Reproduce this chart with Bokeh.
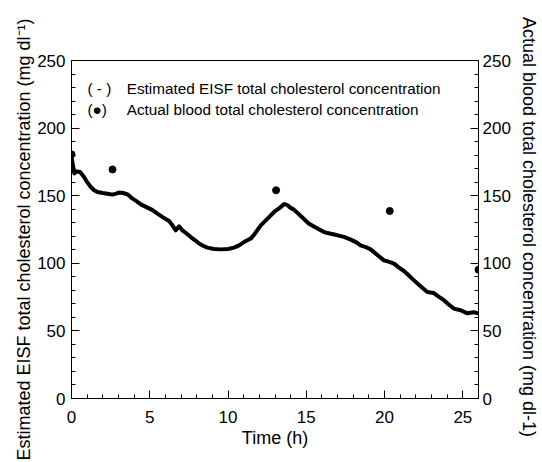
from bokeh.plotting import figure
from bokeh.models import Range1d, LinearAxis, SingleIntervalTicker, Label
from bokeh.embed import file_html
from bokeh.resources import INLINE

# Estimated EISF total cholesterol (continuous line)
eisf_time = [0.00, 0.10, 0.18, 0.35, 0.55, 0.80, 1.00, 1.23, 1.45, 1.66, 2.00, 2.30, 2.62, 2.85,
             3.04, 3.30, 3.58, 3.90, 4.15, 4.43, 4.85, 5.15, 5.49, 5.85, 6.23, 6.45, 6.66, 6.87,
             7.09, 7.35, 7.62, 7.90, 8.15, 8.40, 8.68, 9.10, 9.53, 10.00, 10.38, 10.70, 11.02,
             11.45, 11.66, 12.09, 12.30, 12.73, 13.05, 13.30, 13.58, 13.80, 14.00, 14.21, 14.70,
             15.17, 15.60, 16.13, 16.50, 17.00, 17.40, 17.84, 18.20, 18.47, 18.80, 19.11, 19.50,
             19.96, 20.30, 20.60, 20.90, 21.24, 21.55, 21.88, 22.30, 22.73, 23.15, 23.50, 23.79,
             24.10, 24.43, 24.86, 25.29, 25.70, 26.00]
eisf_value = [178.5, 172.0, 166.5, 168.0, 167.5, 163.8, 160.0, 156.4, 154.0, 152.7, 152.0, 151.5, 150.8, 151.5,
              152.3, 152.0, 151.0, 147.8, 146.0, 143.6, 141.2, 139.5, 136.7, 134.0, 131.3, 128.1, 124.4, 127.3,
              124.4, 122.0, 119.4, 117.0, 114.6, 113.0, 111.6, 110.6, 110.3, 110.6, 111.6, 113.3, 115.7,
              118.3, 121.0, 128.1, 130.5, 135.5, 139.0, 141.0, 143.8, 143.0, 141.0, 139.7, 134.5,
              129.3, 126.5, 123.1, 122.0, 120.7, 119.5, 117.5, 115.5, 113.3, 112.0, 110.3, 106.5,
              102.2, 101.0, 99.8, 97.0, 94.3, 91.0, 87.4, 83.0, 78.8, 78.0, 75.0, 72.7,
              69.5, 66.5, 65.3, 63.0, 63.8, 63.0]

# Actual blood total cholesterol (dots)
blood_time = [0.0, 2.62, 13.07, 20.33, 26.0]
blood_value = [180.6, 169.4, 154.0, 138.7, 95.3]

x_label = "Time (h)"
left_label = "Estimated EISF total cholesterol concentration  (mg dl\u207b\u00b9)\u00a0\u00a0\u00a0"
right_label = "Actual blood total cholesterol concentration  (mg dl-1)"
legend_rows = [("( - )", "Estimated EISF total cholesterol concentration"),
               ("(\u25cf)", "Actual blood total cholesterol concentration")]

FONT = "Liberation Sans"

p = figure(width=542, height=462, output_backend="svg", toolbar_location=None,
           x_range=Range1d(0, 26), y_range=Range1d(0, 250),
           min_border_left=71, min_border_right=64, min_border_top=60, min_border_bottom=64)
p.extra_y_ranges = {"right": Range1d(0, 250)}

p.xgrid.visible = False
p.ygrid.visible = False
p.outline_line_color = "black"
p.outline_line_width = 1
p.background_fill_color = "white"
p.border_fill_color = "white"

def style_axis(ax, interval, label_standoff, axis_label_standoff):
    ax.ticker = SingleIntervalTicker(interval=interval, num_minor_ticks=5)
    ax.axis_line_color = "black"
    ax.major_tick_line_color = "black"
    ax.minor_tick_line_color = "black"
    ax.major_tick_in = 8
    ax.major_tick_out = 0
    ax.minor_tick_in = 4
    ax.minor_tick_out = 0
    ax.major_label_text_color = "black"
    ax.major_label_text_font = FONT
    ax.major_label_text_font_size = "17px"
    ax.major_label_standoff = label_standoff
    ax.axis_label_text_color = "black"
    ax.axis_label_text_font = FONT
    ax.axis_label_text_font_size = "18px"
    ax.axis_label_text_font_style = "normal"
    ax.axis_label_standoff = axis_label_standoff

xa = p.xaxis[0]
style_axis(xa, 5, 12, 2)
xa.axis_label = x_label

ya = p.yaxis[0]
style_axis(ya, 50, 6, 0)
ya.axis_label = left_label

ra = LinearAxis(y_range_name="right")
style_axis(ra, 50, 4, 5)
ra.axis_label = right_label
p.add_layout(ra, "right")

p.line(eisf_time, eisf_value, line_color="black", line_width=4, line_join="round", line_cap="round")
p.scatter(blood_time, blood_value, y_range_name="right", size=7, fill_color="black", line_color="black")

# legend as text rows
row_y = [229.3, 213.8]
for (sym, txt), yy in zip(legend_rows, row_y):
    p.add_layout(Label(x=1.02, y=yy, text=sym, text_font=FONT, text_font_size="15.3px",
                       text_color="black", text_baseline="middle"))
    p.add_layout(Label(x=3.53, y=yy, text=txt, text_font=FONT, text_font_size="15.3px",
                       text_color="black", text_baseline="middle"))

open("out.html", "w").write(file_html(p, INLINE))
